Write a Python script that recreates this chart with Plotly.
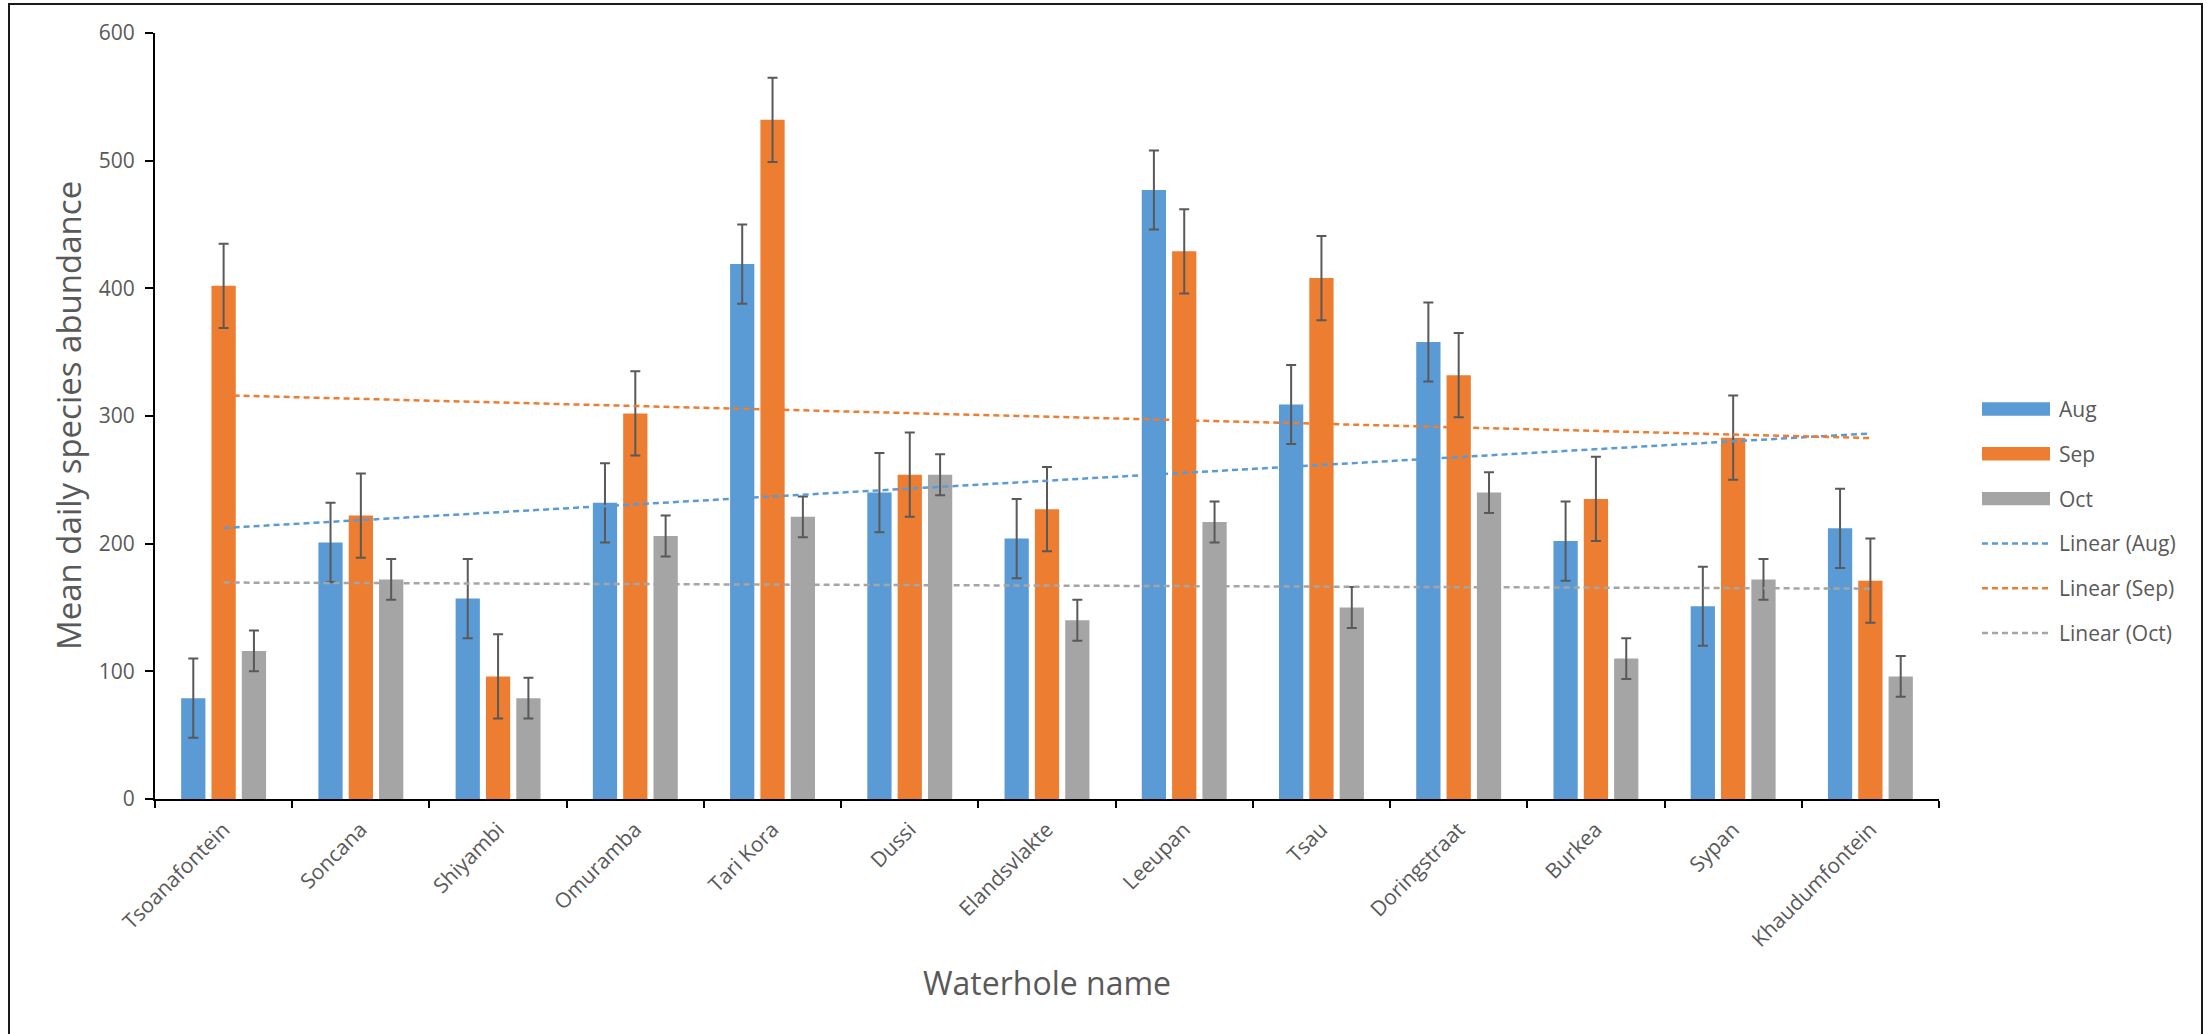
import numpy as np
import plotly.graph_objects as go

# Mean daily species abundance per waterhole, by month
waterholes = ["Tsoanafontein", "Soncana", "Shiyambi", "Omuramba", "Tari Kora", "Dussi",
              "Elandsvlakte", "Leeupan", "Tsau", "Doringstraat", "Burkea", "Sypan",
              "Khaudumfontein"]
aug = [79, 201, 157, 232, 419, 240, 204, 477, 309, 358, 202, 151, 212]
sep = [402, 222, 96, 302, 532, 254, 227, 429, 408, 332, 235, 283, 171]
oct_ = [116, 172, 79, 206, 221, 254, 140, 217, 150, 240, 110, 172, 96]

# Error bar half-lengths per month
aug_err = [31, 31, 31, 31, 31, 31, 31, 31, 31, 31, 31, 31, 31]
sep_err = [33, 33, 33, 33, 33, 33, 33, 33, 33, 33, 33, 33, 33]
oct_err = [16, 16, 16, 16, 16, 16, 16, 16, 16, 16, 16, 16, 16]

months = ["Aug", "Sep", "Oct"]
series = [aug, sep, oct_]
errors = [aug_err, sep_err, oct_err]
colors = ["#5B9BD5", "#ED7D31", "#A5A5A5"]

y_ticks = [0, 100, 200, 300, 400, 500, 600]

W, H = 2207, 1034
L, R, T, B = 155, 1939, 33, 799   # plot area in pixels
PW, PH = R - L, B - T

def px_x(px):
    return (px - L) / PW

def px_y(py):
    return (B - py) / PH

TEXT = "#595959"
FONT = "Open Sans"

fig = go.Figure()

for name, vals, err, col in zip(months, series, errors, colors):
    fig.add_trace(go.Bar(
        x=waterholes, y=vals, name=name, marker=dict(color=col, line=dict(width=0)),
        error_y=dict(type="data", array=err, visible=True, color="#595959",
                     thickness=2, width=5),
        showlegend=False,
    ))

# Linear trendlines (least squares over category index)
idx = np.arange(1, len(waterholes) + 1)
for name, vals, col in zip(months, series, colors):
    slope, intercept = np.polyfit(idx, np.array(vals, dtype=float), 1)
    fit = slope * idx + intercept
    fig.add_trace(go.Scatter(
        x=waterholes, y=fit, mode="lines", name=f"Linear ({name})",
        line=dict(color=col, width=2.5, dash="6px,4px"), showlegend=False,
    ))

fig.update_layout(
    width=W, height=H, autosize=False,
    margin=dict(l=L, r=W - R, t=T, b=H - B, pad=0),
    paper_bgcolor="white", plot_bgcolor="white",
    barmode="group", bargap=0.337, bargroupgap=0.2,
    font=dict(family=FONT, color=TEXT, size=20),
    showlegend=False,
)

fig.update_xaxes(
    type="category", showline=True, linecolor="black", linewidth=2,
    ticks="outside", tickson="boundaries", ticklen=7, tickwidth=2, tickcolor="black",
    tickangle=-45, tickfont=dict(family=FONT, size=21, color=TEXT),
    showgrid=False, zeroline=False, ticklabelstandoff=8,
)
fig.update_yaxes(
    range=[0, 600], tickvals=y_ticks, showline=True, linecolor="black", linewidth=2,
    ticks="outside", ticklen=8, tickwidth=2, tickcolor="black",
    tickfont=dict(family=FONT, size=21, color=TEXT),
    showgrid=False, zeroline=False, ticklabelstandoff=6,
)

annotations = [
    dict(text="Mean daily species abundance", xref="paper", yref="paper",
         x=px_x(68), y=px_y(416), textangle=-90, showarrow=False,
         xanchor="center", yanchor="middle", font=dict(family=FONT, size=33, color=TEXT)),
    dict(text="Waterhole name", xref="paper", yref="paper",
         x=px_x(1047), y=px_y(982), showarrow=False,
         xanchor="center", yanchor="middle", font=dict(family=FONT, size=32, color=TEXT)),
]

shapes = [
    # chart frame
    dict(type="rect", xref="paper", yref="paper", x0=px_x(9), x1=px_x(2202),
         y0=px_y(1040), y1=px_y(4), line=dict(color="#1a1a1a", width=2),
         fillcolor="rgba(0,0,0,0)", layer="above"),
]

# Legend drawn as swatches beside the plot
legend_names = ["Aug", "Sep", "Oct", "Linear (Aug)", "Linear (Sep)", "Linear (Oct)"]
legend_colors = colors + colors
for i, (lname, lcol) in enumerate(zip(legend_names, legend_colors)):
    yc = 409 + i * 44.8
    if i < 3:
        shapes.append(dict(type="rect", xref="paper", yref="paper",
                           x0=px_x(1982), x1=px_x(2050), y0=px_y(yc + 6.7), y1=px_y(yc - 6.7),
                           fillcolor=lcol, line=dict(width=0)))
    else:
        shapes.append(dict(type="line", xref="paper", yref="paper",
                           x0=px_x(1982), x1=px_x(2050), y0=px_y(yc), y1=px_y(yc),
                           line=dict(color=lcol, width=2.5, dash="6px,4px")))
    annotations.append(dict(text=lname, xref="paper", yref="paper",
                            x=px_x(2057), y=px_y(yc), showarrow=False,
                            xanchor="left", yanchor="middle",
                            font=dict(family=FONT, size=21, color=TEXT)))

fig.update_layout(annotations=annotations, shapes=shapes)

fig.write_html("out.html")
